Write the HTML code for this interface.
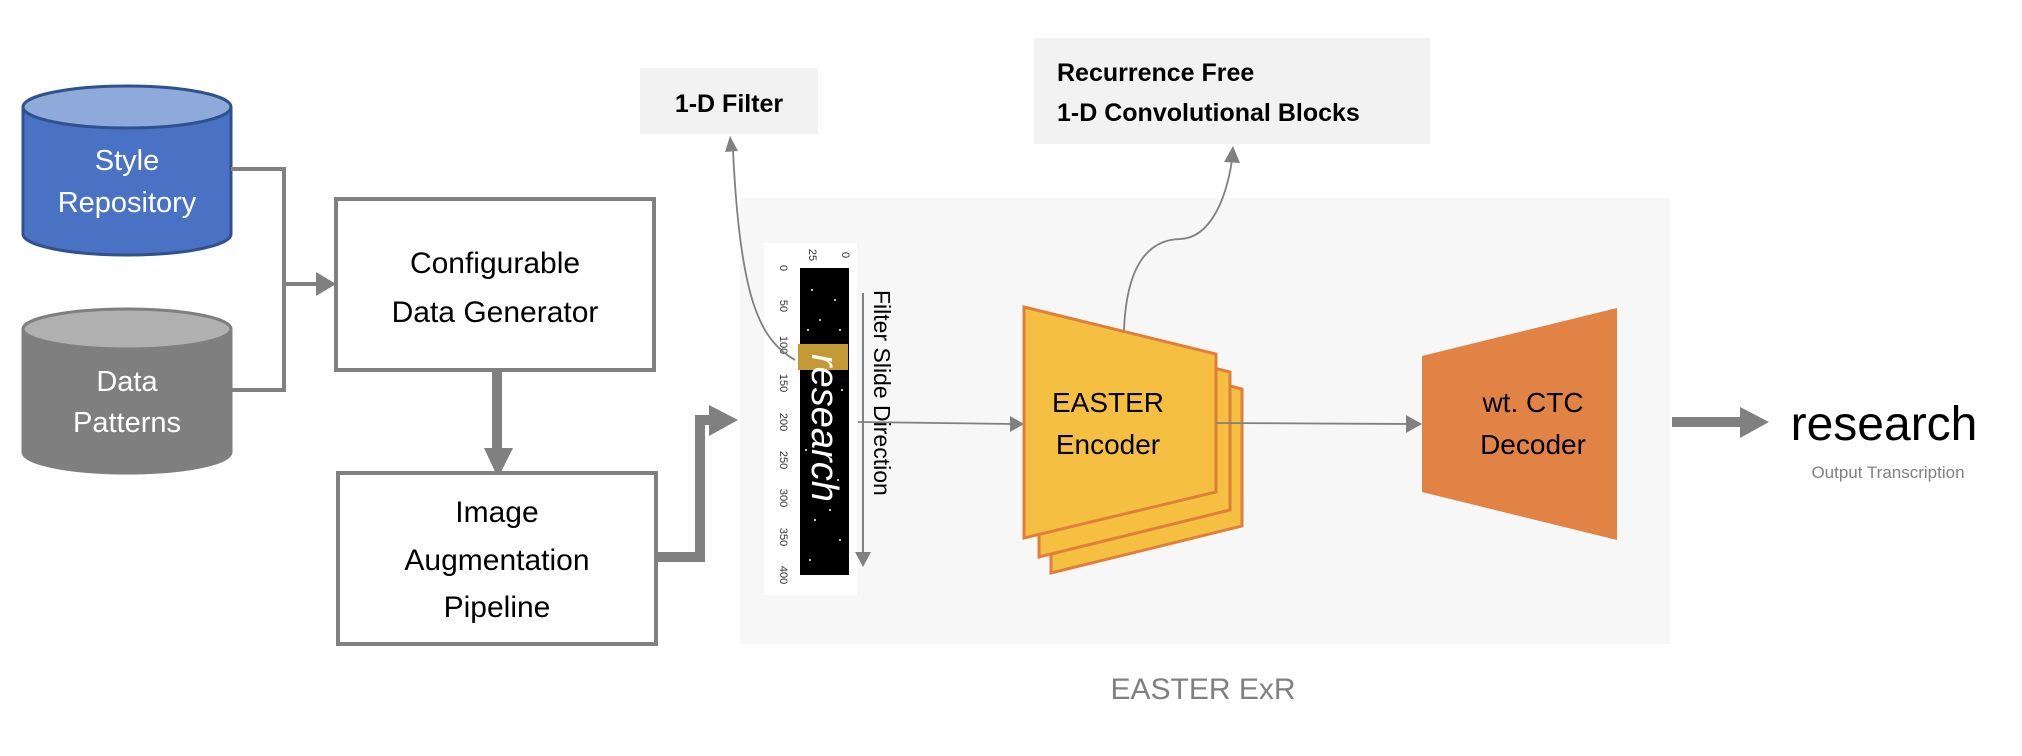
<!DOCTYPE html>
<html><head><meta charset="utf-8"><style>
html,body{margin:0;padding:0;background:#fff;}
svg{display:block;}
text{font-family:"Liberation Sans",sans-serif;}
</style></head><body>
<svg width="2022" height="756" viewBox="0 0 2022 756" xmlns="http://www.w3.org/2000/svg">
<defs>
<marker id="ah" markerWidth="10" markerHeight="10" refX="8" refY="5" orient="auto" markerUnits="userSpaceOnUse" viewBox="0 0 10 10"><path d="M0,0 L10,5 L0,10 z" fill="#808080"/></marker>
</defs>
<!-- gray panel -->
<rect x="740" y="198" width="930" height="446" fill="#f7f7f7"/>
<!-- Style repository cylinder -->
<path d="M23,107 L23,234 A104,21 0 0 0 231,234 L231,107" fill="#4a72c4" stroke="#2f528f" stroke-width="3"/>
<ellipse cx="127" cy="107" rx="104" ry="21" fill="#8eaadb" stroke="#2f528f" stroke-width="3"/>
<text x="127" y="170" font-size="29" fill="#fff" text-anchor="middle">Style</text>
<text x="127" y="212" font-size="29" fill="#fff" text-anchor="middle">Repository</text>
<!-- Data patterns cylinder -->
<path d="M23,329 L23,452 A104,21 0 0 0 231,452 L231,329" fill="#7f7f7f" stroke="#7f7f7f" stroke-width="3"/>
<ellipse cx="127" cy="329" rx="104" ry="20" fill="#b0b0b0" stroke="#7f7f7f" stroke-width="3"/>
<text x="127" y="391" font-size="29" fill="#fff" text-anchor="middle">Data</text>
<text x="127" y="432" font-size="29" fill="#fff" text-anchor="middle">Patterns</text>
<!-- connectors -->
<polyline points="231,169 284,169 284,390 231,390" fill="none" stroke="#808080" stroke-width="4"/>
<line x1="284" y1="284" x2="322" y2="284" stroke="#808080" stroke-width="4"/>
<path d="M316,272 L336,284 L316,296 z" fill="#808080"/>
<!-- Config box -->
<rect x="336" y="199" width="318" height="171" fill="#fff" stroke="#808080" stroke-width="4"/>
<text x="495" y="273" font-size="30" text-anchor="middle" fill="#000">Configurable</text>
<text x="495" y="322" font-size="30" text-anchor="middle" fill="#000">Data Generator</text>
<!-- down arrow -->
<line x1="497" y1="370" x2="497" y2="452" stroke="#808080" stroke-width="10"/>
<path d="M484,448 L513,448 L498,478 z" fill="#808080"/>
<!-- Image aug box -->
<rect x="338" y="473" width="318" height="171" fill="#fff" stroke="#808080" stroke-width="4"/>
<text x="497" y="522" font-size="30" text-anchor="middle" fill="#000">Image</text>
<text x="497" y="570" font-size="30" text-anchor="middle" fill="#000">Augmentation</text>
<text x="497" y="617" font-size="30" text-anchor="middle" fill="#000">Pipeline</text>
<!-- thick connector to strip -->
<polyline points="656,557 700,557 700,420 712,420" fill="none" stroke="#808080" stroke-width="10"/>
<path d="M709,405 L738,420 L709,436 z" fill="#808080"/>
<!-- 1-D Filter box -->
<rect x="640" y="68" width="178" height="66" fill="#f2f2f2"/>
<text x="729" y="112" font-size="25" font-weight="bold" text-anchor="middle" fill="#000">1-D Filter</text>
<!-- Recurrence box -->
<rect x="1034" y="38" width="396" height="106" fill="#f2f2f2"/>
<text x="1057" y="81" font-size="25" font-weight="bold" fill="#000">Recurrence Free</text>
<text x="1057" y="121" font-size="25" font-weight="bold" fill="#000">1-D Convolutional Blocks</text>
<!-- image strip -->
<rect x="764" y="243" width="93" height="352" fill="#fff"/>
<rect x="800" y="268" width="49" height="307" fill="#000"/>
<g fill="#fff">
<circle cx="812" cy="290" r="1"/><circle cx="835" cy="300" r="1"/><circle cx="820" cy="320" r="1"/><circle cx="840" cy="330" r="1"/><circle cx="808" cy="330" r="1"/><circle cx="842" cy="390" r="1"/><circle cx="806" cy="450" r="1"/><circle cx="838" cy="480" r="1"/><circle cx="815" cy="520" r="1"/><circle cx="840" cy="540" r="1"/><circle cx="810" cy="560" r="1"/><circle cx="830" cy="510" r="1"/>
</g>
<rect x="798" y="344" width="50" height="26" fill="#c49a37"/>
<text transform="translate(812,354) rotate(90)" font-size="38" fill="#fff" font-style="italic" font-family="Liberation Serif,serif">research</text>
<g font-size="11" fill="#333" text-anchor="middle">
<text transform="translate(780,268) rotate(90)">0</text>
<text transform="translate(780,306) rotate(90)">50</text>
<text transform="translate(780,345) rotate(90)">100</text>
<text transform="translate(780,383) rotate(90)">150</text>
<text transform="translate(780,422) rotate(90)">200</text>
<text transform="translate(780,460) rotate(90)">250</text>
<text transform="translate(780,498) rotate(90)">300</text>
<text transform="translate(780,537) rotate(90)">350</text>
<text transform="translate(780,575) rotate(90)">400</text>
<text transform="translate(809,255) rotate(90)">25</text>
<text transform="translate(842,255) rotate(90)">0</text>
</g>
<line x1="863" y1="293" x2="863" y2="555" stroke="#808080" stroke-width="2"/>
<path d="M855,552 L871,552 L863,567 z" fill="#808080"/>
<text transform="translate(874,290) rotate(90)" font-size="23" fill="#000">Filter Slide Direction</text>
<!-- curve to 1-D filter -->
<path d="M795,360 C760,340 740,300 733,150" fill="none" stroke="#808080" stroke-width="1.8"/>
<path d="M725,152 L730,136 L738,151 z" fill="#808080"/>
<!-- line to encoder -->
<line x1="858" y1="422" x2="1014" y2="424" stroke="#808080" stroke-width="1.8"/>
<path d="M1010,416 L1024,424 L1010,432 z" fill="#808080"/>
<!-- encoder layers -->
<g fill="#f5bf42" stroke="#e07f3a" stroke-width="3">
<polygon points="1051,341 1242,389 1242,526 1051,573"/>
<polygon points="1039,324 1230,372 1230,510 1039,557"/>
<polygon points="1024,307 1216,354 1216,492 1024,538"/>
</g>
<text x="1108" y="412" font-size="28" text-anchor="middle" fill="#000">EASTER</text>
<text x="1108" y="454" font-size="28" text-anchor="middle" fill="#000">Encoder</text>
<!-- curve to recurrence -->
<path d="M1124,330 C1126,280 1140,240 1180,239 C1210,238 1226,200 1232,160" fill="none" stroke="#808080" stroke-width="1.8"/>
<path d="M1224,162 L1233,146 L1240,163 z" fill="#808080"/>
<!-- enc to dec -->
<line x1="1216" y1="423" x2="1410" y2="424" stroke="#808080" stroke-width="1.8"/>
<path d="M1406,415 L1422,424 L1406,433 z" fill="#808080"/>
<!-- decoder -->
<polygon points="1422,356 1617,308 1617,540 1422,492" fill="#e08344"/>
<text x="1533" y="412" font-size="28" text-anchor="middle" fill="#000">wt. CTC</text>
<text x="1533" y="454" font-size="28" text-anchor="middle" fill="#000">Decoder</text>
<!-- output arrow -->
<line x1="1672" y1="422" x2="1742" y2="422" stroke="#808080" stroke-width="10"/>
<path d="M1740,407 L1769,422 L1740,438 z" fill="#808080"/>
<text x="1884" y="440" font-size="48" text-anchor="middle" fill="#000">research</text>
<text x="1888" y="478" font-size="17" text-anchor="middle" fill="#808080">Output Transcription</text>
<text x="1203" y="699" font-size="30" text-anchor="middle" fill="#808080">EASTER ExR</text>
</svg>
</body></html>
